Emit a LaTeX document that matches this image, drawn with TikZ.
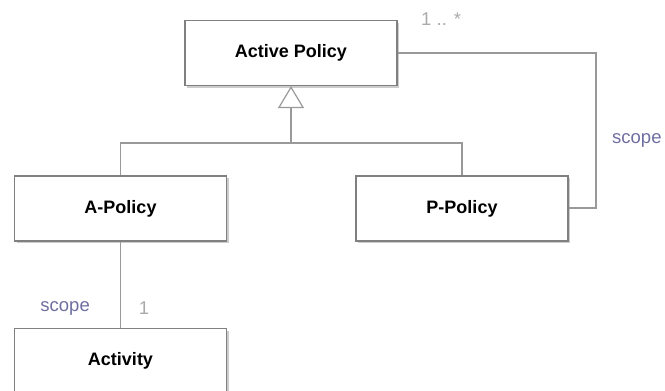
\documentclass[tikz,border=0pt]{standalone}
\usepackage{fontspec}
\setmainfont{Liberation Sans}
\usetikzlibrary{shadows,arrows.meta}
\definecolor{lineg}{HTML}{999999}
\definecolor{boxg}{HTML}{808080}
\definecolor{rolec}{HTML}{6E6EA0}
\definecolor{multc}{HTML}{AAAAAA}
\begin{document}
\begin{tikzpicture}[x=1pt,y=-1pt,
  cls/.style={draw=boxg,line width=1.2pt,fill=white,minimum width=212pt,minimum height=65pt,inner sep=0pt,font=\bfseries\fontsize{18}{20}\selectfont,
    drop shadow={shadow xshift=2pt,shadow yshift=-2pt,fill=black,opacity=0.2}},
  conn/.style={draw=lineg,line width=1.2pt},
  role/.style={text=rolec,font=\fontsize{18.5}{20}\selectfont,inner sep=0pt},
  mult/.style={text=multc,font=\fontsize{18.5}{20}\selectfont,inner sep=0pt}]
\useasboundingbox (0,0) rectangle (665,391);
\begin{scope}
\clip (0,0) rectangle (665,391);
\node[cls] (ap) at (291,53) {Active Policy};
\node[cls] (a) at (120.5,208.5) {A-Policy};
\node[cls] (p) at (462,208.5) {P-Policy};
\node[cls] (act) at (120.5,361) {Activity};
\coordinate (j) at (291,143);
\coordinate (r1) at (596,53);
\coordinate (r2) at (596,208);
\draw[conn] (a.north) |- (j) -| (p.north);
\draw[conn,-{Triangle[open,width=26pt,length=22pt,fill=white]}] (j) -- (ap.south);
\draw[conn] (a.south) -- (act.north);
\draw[conn] (ap.east |- r1) -- (r1) -- (r2) -- (p.east |- r2);
\node[role,anchor=east] at (90,308) {scope};
\node[mult] at (144,308) {1};
\node[role,anchor=west] at (612,140) {scope};
\node[mult,anchor=west] at (421,19) {1 .. *};
\end{scope}
\end{tikzpicture}
\end{document}
